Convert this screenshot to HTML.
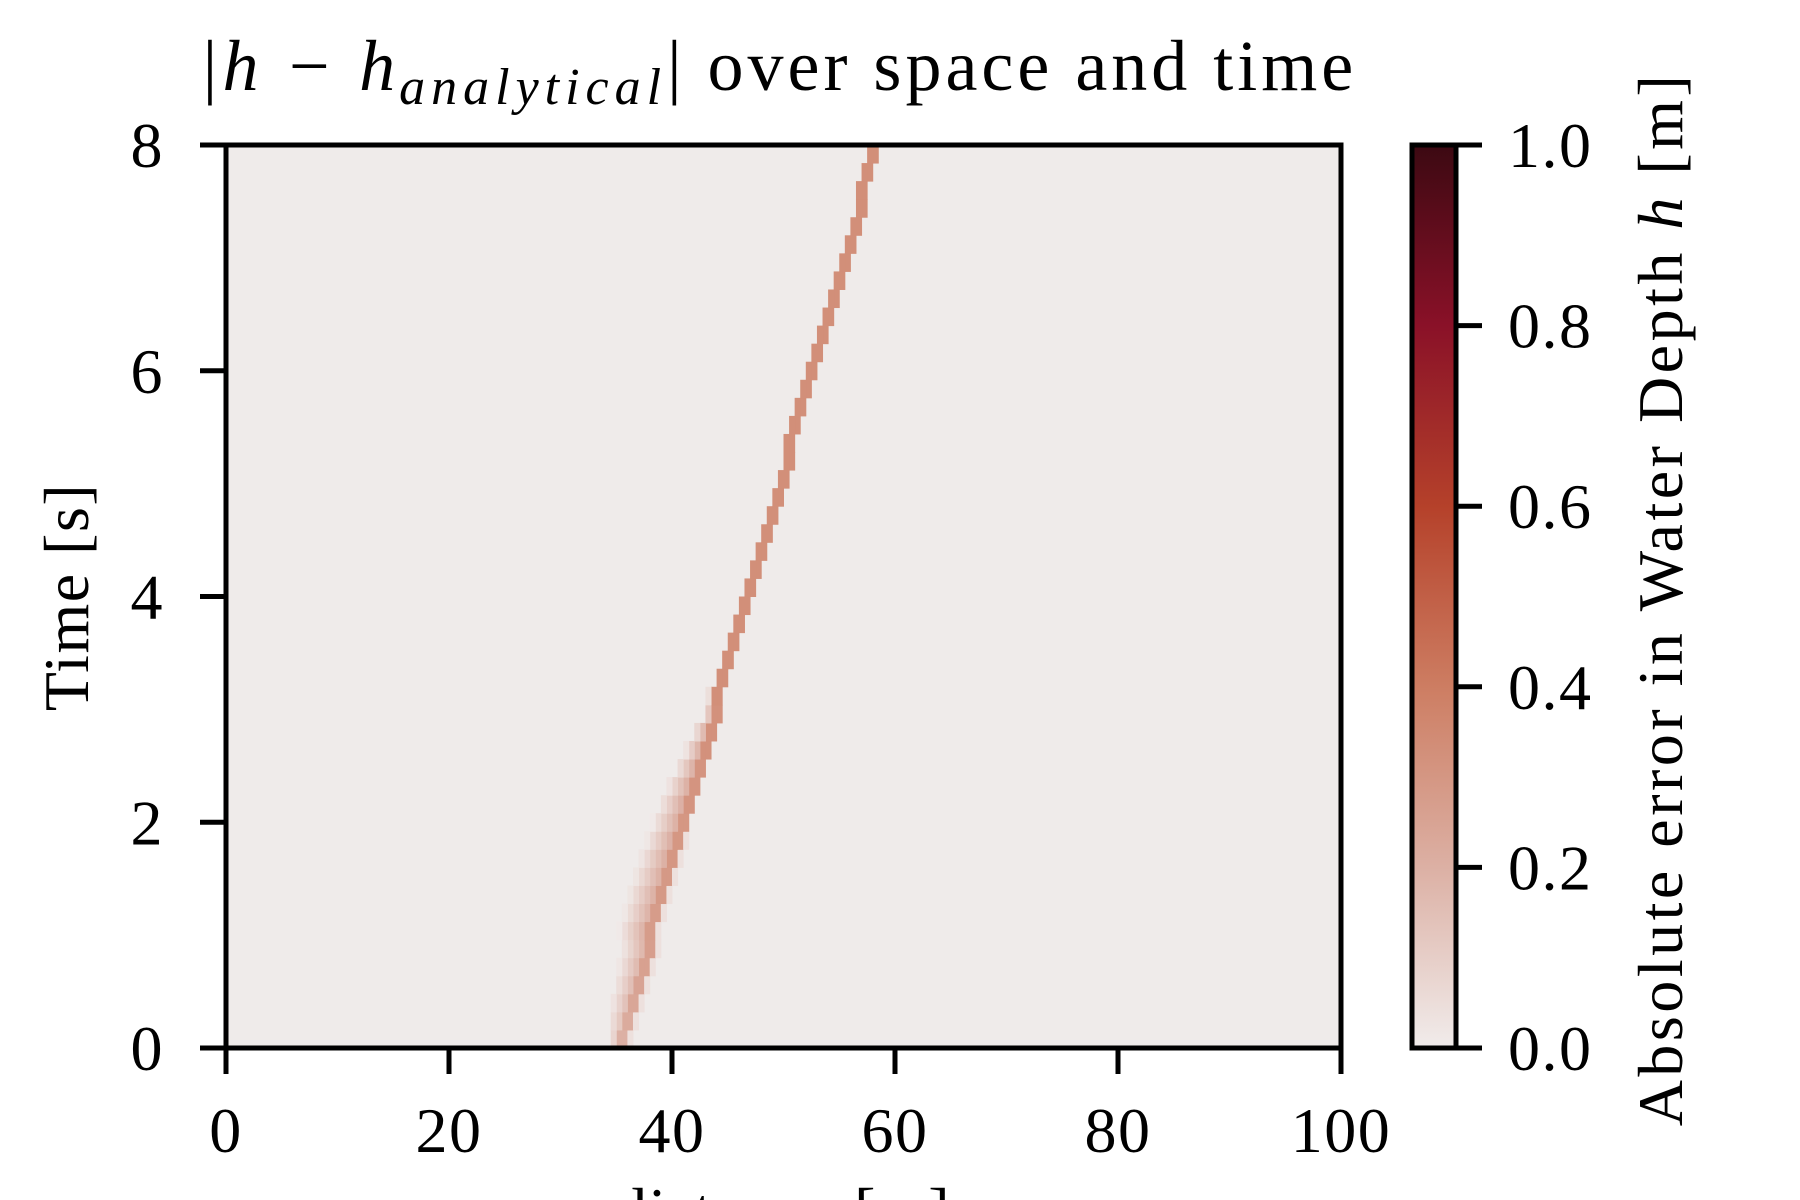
<!DOCTYPE html>
<html><head><meta charset="utf-8"><style>
html,body{margin:0;padding:0;background:#fff;}
svg{display:block;}
text{font-family:"Liberation Serif","DejaVu Serif",serif;fill:#000;}
</style></head><body>
<svg id="chart" width="1800" height="1200" viewBox="0 0 1800 1200" xmlns="http://www.w3.org/2000/svg">
<defs>
<linearGradient id="cbgrad" x1="0" y1="1" x2="0" y2="0">
<stop offset="0" stop-color="#f1eceb"/><stop offset="0.2" stop-color="#dcb0a4"/>
<stop offset="0.4" stop-color="#cd7d62"/><stop offset="0.6" stop-color="#b5412a"/>
<stop offset="0.8" stop-color="#8a1128"/><stop offset="1" stop-color="#3c0912"/>
</linearGradient>
<clipPath id="plotclip"><rect x="226" y="145" width="1115" height="903"/></clipPath>
</defs>
<text x="778" y="90" font-size="72" letter-spacing="4" text-anchor="middle"><tspan font-style="italic">|h − h</tspan><tspan font-style="italic" font-size="52" dy="14" letter-spacing="6">analytical</tspan><tspan dy="-14">| over space and time</tspan></text>
<rect x="226" y="145" width="1115" height="903" fill="#efebea"/>
<g id="cells" clip-path="url(#plotclip)"></g>
<rect x="226" y="145" width="1115" height="903" fill="none" stroke="#000" stroke-width="5"/>
<g id="xticks"></g>
<g id="yticks"></g>
<text x="783" y="1232" font-size="64" letter-spacing="1.5" text-anchor="middle">distance [m]</text>
<text transform="translate(88,597) rotate(-90)" font-size="64" letter-spacing="1.5" text-anchor="middle">Time [s]</text>
<rect x="1412" y="145" width="44" height="903" fill="url(#cbgrad)" stroke="#000" stroke-width="5"/>
<g id="cbticks"></g>
<text transform="translate(1682,599) rotate(-90)" font-size="64" letter-spacing="3.5" text-anchor="middle">Absolute error in Water Depth <tspan font-style="italic">h</tspan> [m]</text>
</svg>
<script>
const xTicks=[0,20,40,60,80,100];
const yTicks=[0,2,4,6,8];
const cbTicks=["0.0","0.2","0.4","0.6","0.8","1.0"];
const cbValues=[0,0.2,0.4,0.6,0.8,1.0];
const dt=0.16;
const rowTimes=[0.08,0.24,0.40,0.56,0.72,0.88,1.04,1.20,1.36,1.52,1.68,1.84,2.00,2.16,2.32,2.48,2.64,2.80,2.96,3.12,3.28,3.44,3.60,3.76,3.92,4.08,4.24,4.40,4.56,4.72,4.88,5.04,5.20,5.36,5.52,5.68,5.84,6.00,6.16,6.32,6.48,6.64,6.80,6.96,7.12,7.28,7.44,7.60,7.76,7.92];
const frontX=[35.4,35.9,36.4,36.8,37.3,37.8,38.2,38.7,39.1,39.6,40.1,40.5,41.0,41.5,41.9,42.4,42.9,43.3,43.8,44.2,44.7,45.2,45.6,46.1,46.6,47.0,47.5,48.0,48.4,48.9,49.4,49.8,50.3,50.7,51.2,51.7,52.1,52.6,53.1,53.5,54.0,54.5,54.9,55.4,55.8,56.3,56.8,57.2,57.7,58.2];
const peakVal=[0.2,0.22,0.24,0.25,0.26,0.27,0.28,0.28,0.29,0.29,0.30,0.30,0.30,0.31,0.31,0.31,0.32,0.32,0.32,0.33,0.33,0.33,0.33,0.33,0.33,0.33,0.33,0.33,0.33,0.33,0.33,0.33,0.33,0.33,0.33,0.33,0.33,0.33,0.33,0.33,0.33,0.33,0.33,0.33,0.33,0.33,0.33,0.33,0.33,0.33];
const trailWidth=[1.0,1.5,1.8,2.0,2.2,2.4,2.6,2.7,2.8,2.8,2.8,2.7,2.6,2.5,2.3,2.0,1.7,1.4,1.0,0.6,0.3,0,0,0,0,0,0,0,0,0,0,0,0,0,0,0,0,0,0,0,0,0,0,0,0,0,0,0,0,0];
const dx=0.5;
const X0=226,X1=1341,Y0=1048,Y1=145;
const xs=v=>X0+(v-0)/(100-0)*(X1-X0);
const ys=v=>Y0-(v-0)/(8-0)*(Y0-Y1);
const cs=v=>1048-v*903;
const stops=[[0,[241,236,235]],[0.2,[220,176,164]],[0.4,[205,125,98]],[0.6,[181,65,42]],[0.8,[138,17,40]],[1,[60,9,18]]];
function cmap(v){v=Math.max(0,Math.min(1,v));for(let i=1;i<stops.length;i++){if(v<=stops[i][0]){const a=stops[i-1],b=stops[i];const f=(v-a[0])/(b[0]-a[0]);const c=a[1].map((q,j)=>Math.round(q+(b[1][j]-q)*f));return `rgb(${c})`;}}return 'rgb(60,9,18)';}
const NS='http://www.w3.org/2000/svg';
const cells=document.getElementById('cells');
function cell(x,t,v){const r=document.createElementNS(NS,'rect');


r.setAttribute('x',xs(x));r.setAttribute('width',xs(x+dx)-xs(x)+0.5);
r.setAttribute('y',ys(t+dt/2));r.setAttribute('height',ys(t-dt/2)-ys(t+dt/2)+0.5);
r.setAttribute('fill',cmap(v));cells.appendChild(r);}
rowTimes.forEach((t,i)=>{
  const f=Math.round(frontX[i]/dx)*dx;
  cell(f,t,peakVal[i]);cell(f-dx,t,peakVal[i]);
  const w=trailWidth[i];
  for(let d=dx;d<w;d+=dx){cell(f-dx-d,t,peakVal[i]*(1-d/w)*0.8);}
  if(i<12)cell(f+dx,t,0.04);
});
function line(g,x1,y1,x2,y2,name){const l=document.createElementNS(NS,'line');


l.setAttribute('x1',x1);l.setAttribute('y1',y1);l.setAttribute('x2',x2);l.setAttribute('y2',y2);
l.setAttribute('stroke','#000');l.setAttribute('stroke-width','5');g.appendChild(l);}
function txt(g,x,y,s,anchor,name){const e=document.createElementNS(NS,'text');


e.setAttribute('x',x);e.setAttribute('y',y);e.setAttribute('font-size','64');e.setAttribute('letter-spacing','1.5');e.setAttribute('text-anchor',anchor);e.textContent=s;g.appendChild(e);}
const gx=document.getElementById('xticks');
xTicks.forEach(v=>{line(gx,xs(v),1048,xs(v),1074,'x-tick');txt(gx,xs(v),1152,String(v),'middle','x-tick-label');});
const gy=document.getElementById('yticks');
yTicks.forEach(v=>{line(gy,200,ys(v),226,ys(v),'y-tick');txt(gy,164,ys(v)+22,String(v),'end','y-tick-label');});
const gc=document.getElementById('cbticks');
cbValues.forEach((v,i)=>{line(gc,1456,cs(v),1482,cs(v),'colorbar-tick');txt(gc,1508,cs(v)+22,cbTicks[i],'start','colorbar-tick-label');});
</script>
</body></html>
